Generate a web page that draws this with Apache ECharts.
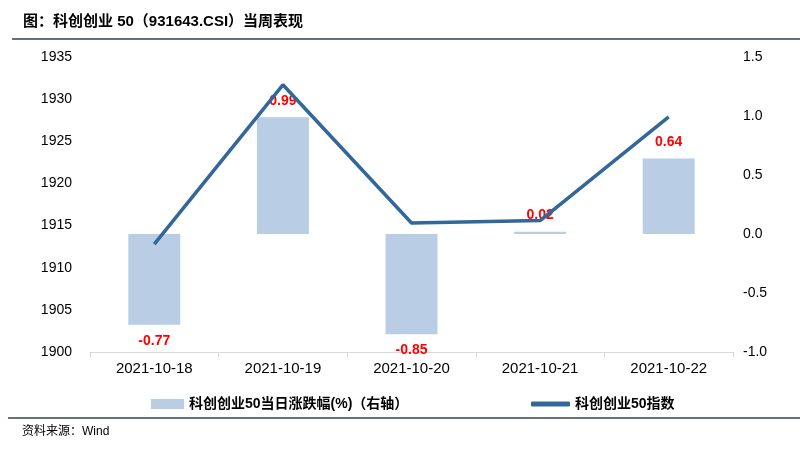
<!DOCTYPE html>
<html><head><meta charset="utf-8">
<script src="https://cdn.jsdelivr.net/npm/echarts@6/dist/echarts.min.js"></script>
<style>html,body{margin:0;padding:0;background:#fff}#c{width:810px;height:451px}</style>
</head><body><div id="c"></div>
<script>
const categories = ['2021-10-18','2021-10-19','2021-10-20','2021-10-21','2021-10-22'];
const pctChange = [-0.77, 0.99, -0.85, 0.02, 0.64];
const indexValues = [1912.8, 1931.7, 1915.3, 1915.6, 1927.9];
const leftTicks = {min:1900, max:1935, interval:5};
const rightTicks = {min:-1.0, max:1.5, interval:0.5};
const barName = '科创创业50当日涨跌幅(%)（右轴）';
const lineName = '科创创业50指数';
const FONT = "'Liberation Sans','Noto Sans CJK SC',sans-serif";

const chart = echarts.init(document.getElementById('c'));
chart.setOption({
  animation:false,
  textStyle:{fontFamily:FONT},
  title:{text:'图：科创创业 50（931643.CSI）当周表现', left:18, top:9,
    textStyle:{fontFamily:FONT, fontSize:15, fontWeight:'bold', color:'#000'}},
  graphic:[
    {type:'line', shape:{x1:12,y1:39,x2:800,y2:39}, style:{stroke:'#333f50', lineWidth:1.5}},
    {type:'line', shape:{x1:8,y1:418,x2:800,y2:418}, style:{stroke:'#333f50', lineWidth:1.5}},
    {type:'text', left:22, top:426, style:{text:'资料来源：Wind', fontSize:12, fill:'#000', fontFamily:FONT}}
  ],
  grid:{left:90, right:77, top:57, bottom:99},
  legend:[
    {data:[{name:barName, icon:'rect'}], left:146, top:392, itemWidth:33, itemHeight:10,
     textStyle:{fontSize:14, fontWeight:'bold', color:'#000', fontFamily:FONT}},
    {data:[{name:lineName, icon:'roundRect'}], left:526, top:392, itemWidth:39, itemHeight:5,
     textStyle:{fontSize:14, fontWeight:'bold', color:'#000', fontFamily:FONT}}
  ],
  xAxis:{type:'category', data:categories, boundaryGap:true,
    axisLine:{onZero:false, lineStyle:{color:'#d9d9d9'}},
    axisTick:{show:true, length:5, lineStyle:{color:'#d9d9d9'}},
    axisLabel:{fontSize:15, color:'#000', margin:9, fontFamily:FONT}},
  yAxis:[
    {type:'value', min:leftTicks.min, max:leftTicks.max, interval:leftTicks.interval,
     splitLine:{show:false}, axisLine:{show:false}, axisTick:{show:false},
     axisLabel:{fontSize:14, color:'#000', margin:18, fontFamily:FONT, formatter:v=>String(v)}},
    {type:'value', position:'right', min:rightTicks.min, max:rightTicks.max, interval:rightTicks.interval,
     splitLine:{show:false}, axisLine:{show:false}, axisTick:{show:false},
     axisLabel:{fontSize:14, color:'#000', margin:10, fontFamily:FONT, formatter:v=>v.toFixed(1)}}
  ],
  series:[
    {name:barName, type:'bar', yAxisIndex:1, barWidth:52,
     itemStyle:{color:'#b9cde5'},
     data:pctChange.map(v=>({value:v, label:{position: v<0?'bottom':'top'}})),
     label:{show:true, distance:9, color:'#ff0000', fontWeight:'bold', fontSize:14, fontFamily:FONT,
       formatter:p=>p.value.toFixed(2)}, z:2},
    {name:lineName, type:'line', yAxisIndex:0, data:indexValues, symbol:'none',
     lineStyle:{color:'#336699', width:3.5}, itemStyle:{color:'#336699'}, z:3}
  ]
});
</script></body></html>
